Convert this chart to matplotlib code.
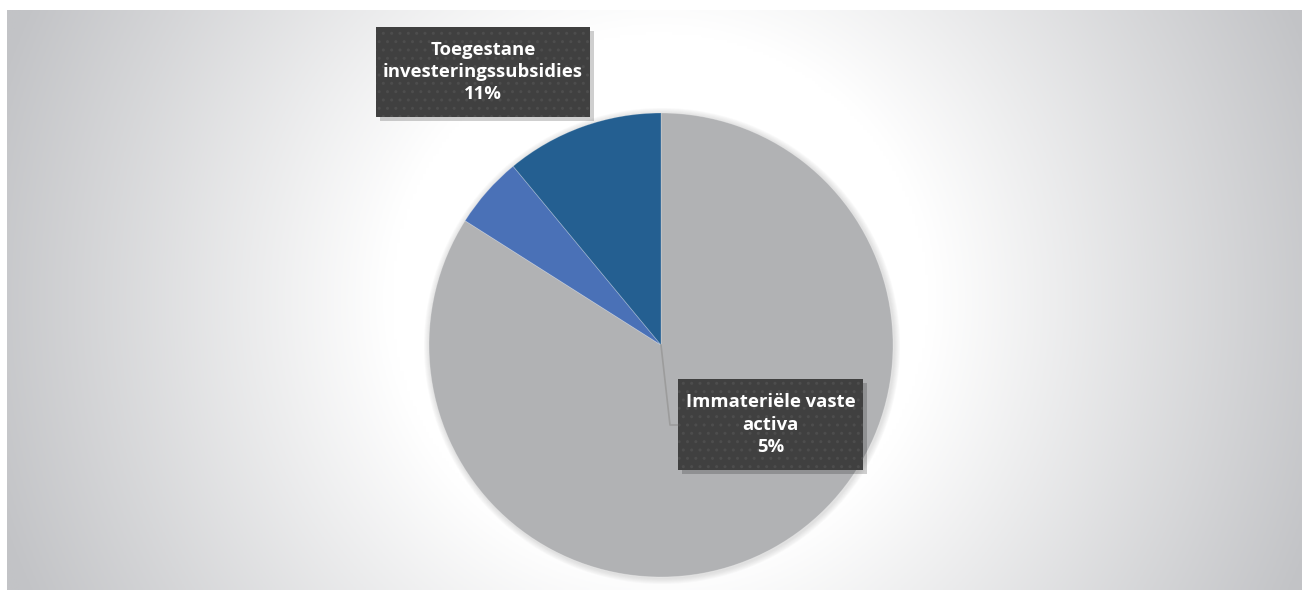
import numpy as np
import matplotlib
matplotlib.use("Agg")
import matplotlib.pyplot as plt
from matplotlib.patches import Rectangle

# data
categories = ["Overige", "Immateriële vaste activa", "Toegestane investeringssubsidies"]
values = [84, 5, 11]
colors = ["#b1b2b4", "#4a71b7", "#245f91"]
label_text = {
    1: "Immateriële vaste\nactiva\n5%",
    2: "Toegestane\ninvesteringssubsidies\n11%",
}

W, H = 1303, 590
fig = plt.figure(figsize=(W / 100, H / 100), dpi=100)
fig.patch.set_facecolor("white")
ax = fig.add_axes([0, 0, 1, 1])
ax.set_xlim(0, W)
ax.set_ylim(0, H)
ax.axis("off")

# chart area with radial gradient
x0, x1, y0, y1 = 7, 1302, 0, 580
xx, yy = np.meshgrid(np.linspace(x0, x1, 400), np.linspace(y0, y1, 200))
r = np.hypot(xx - 660, yy - 290)
t = np.clip((r - 270) / 430, 0, 1)
c0 = np.array([1.0, 1.0, 1.0])
c1 = np.array([0xc2, 0xc3, 0xc6]) / 255
img = c0 + (c1 - c0) * t[..., None]
ax.imshow(img, extent=(x0, x1, y0, y1), origin="lower", zorder=0, aspect="auto")

cx, cy, rad = 661, 245, 232
# soft shadow behind pie
for i in range(6):
    ax.add_patch(plt.Circle((cx + 1, cy - 1), rad + 6 - i, color="#9a9a9a",
                            alpha=0.05, lw=0, zorder=1))

wedges, _ = ax.pie(values, colors=colors, startangle=90, counterclock=False,
                   center=(cx, cy), radius=rad, frame=True,
                   wedgeprops=dict(linewidth=0.6, edgecolor="#ffffff40"))
for w in wedges:
    w.set_zorder(2)
ax.set_xlim(0, W)
ax.set_ylim(0, H)
ax.set_aspect("auto")
ax.axis("off")

# leader line for the small slice
ax.plot([cx, 670, 678], [cy, 165, 165], color="#9c9c9c", lw=1.2, zorder=3)

boxes = {
    2: (376, 473, 214, 90),
    1: (678, 120, 185, 91),
}
for idx, (bx, by, bw, bh) in boxes.items():
    ax.add_patch(Rectangle((bx + 4, by - 4), bw, bh, facecolor="#00000030",
                           lw=0, zorder=4))
    ax.add_patch(Rectangle((bx, by), bw, bh, facecolor="#404040", lw=0, zorder=5))
    ax.add_patch(Rectangle((bx, by), bw, bh, facecolor="none", edgecolor="#4d4d4d",
                           hatch="..", lw=0, zorder=6))
    ax.text(bx + bw / 2, by + bh / 2, label_text[idx], ha="center", va="center",
            color="white", fontsize=13.3, fontweight="bold", family="Open Sans",
            linespacing=1.3, zorder=7)

fig.savefig("out.png", dpi=100, facecolor="white")
